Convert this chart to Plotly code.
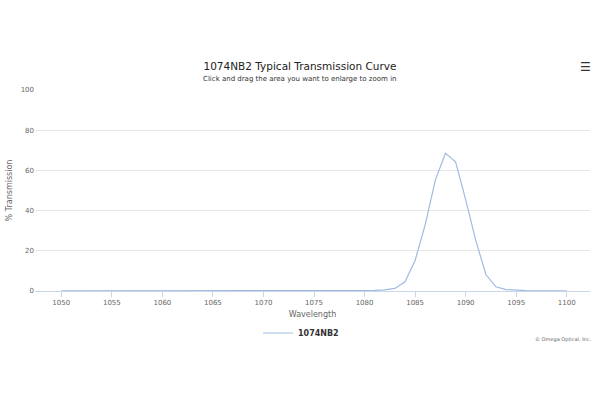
import plotly.graph_objects as go

wavelengths = list(range(1050, 1101))
transmission = [
    0.1, 0.1, 0.1, 0.1, 0.1, 0.1, 0.1, 0.1, 0.1, 0.1,   # 1050-1059
    0.1, 0.1, 0.1, 0.1, 0.1, 0.1, 0.1, 0.1, 0.1, 0.1,   # 1060-1069
    0.1, 0.1, 0.1, 0.1, 0.1, 0.1, 0.1, 0.1, 0.1, 0.2,   # 1070-1079
    0.2, 0.3, 0.6, 1.3, 4.6, 15.2, 33.0, 55.2, 68.5, 64.3,  # 1080-1089
    45.5, 25.2, 8.2, 2.1, 0.7, 0.3, 0.2, 0.1, 0.1, 0.1,  # 1090-1099
    0.1,  # 1100
]
x_ticks = list(range(1050, 1101, 5))
y_ticks = [0, 20, 40, 60, 80, 100]

FONT = "DejaVu Sans"
fig = go.Figure()
fig.add_trace(go.Scatter(
    x=wavelengths, y=transmission, mode="lines",
    name="<b>1074NB2</b>",
    line=dict(color="#9fbbe2", width=1.2),
))

fig.update_layout(
    width=600, height=400,
    paper_bgcolor="white", plot_bgcolor="white",
    margin=dict(l=35, r=10, t=90, b=109),
    font=dict(family=FONT, size=8, color="#666666"),
    title=dict(text="1074NB2 Typical Transmission Curve", x=0.5, xref="container",
               xanchor="center", y=1 - 66 / 400, yanchor="middle",
               font=dict(family=FONT, size=10.5, color="#222222")),
    showlegend=True,
    legend=dict(orientation="h", x=(301 - 35) / 555, xanchor="center", y=-0.209,
                yanchor="middle", font=dict(family=FONT, size=8, color="#333333")),
    xaxis=dict(range=[1047.4, 1102.3], tickvals=x_ticks, ticks="outside",
               ticklen=5, tickcolor="#ccd6eb", showgrid=False, zeroline=False,
               showline=True, linecolor="#ccd6eb", linewidth=1, automargin=False,
               tickfont=dict(size=7, color="#666666"),
               title=dict(text="Wavelength", standoff=4,
                          font=dict(size=8, color="#666666"))),
    yaxis=dict(range=[0, 100], tickvals=y_ticks, showgrid=True, gridcolor="#e6e6e6",
               zeroline=False, showline=False, ticks="", automargin=False,
               tickfont=dict(size=7, color="#666666"),
               title=dict(text="% Transmission", standoff=6,
                          font=dict(size=8, color="#666666"))),
    annotations=[
        dict(text="Click and drag the area you want to enlarge to zoom in",
             xref="paper", yref="paper", x=(300 - 35) / 555, y=(291 - 79) / 201,
             xanchor="center", yanchor="middle", showarrow=False,
             font=dict(family=FONT, size=7, color="#333333")),
        dict(text="☰", xref="paper", yref="paper", x=(585 - 35) / 555,
             y=(291 - 67) / 201, xanchor="center", yanchor="middle", showarrow=False,
             font=dict(family=FONT, size=12, color="#333333")),
        dict(text="© Omega Optical, Inc.", xref="paper", yref="paper",
             x=(594 - 35) / 555, y=(291 - 339) / 201, xanchor="right",
             yanchor="middle", showarrow=False,
             font=dict(family=FONT, size=5, color="#666666")),
    ],
)
fig.write_html("out.html", config={"displayModeBar": False},
               post_script="document.body.style.margin='0';")
